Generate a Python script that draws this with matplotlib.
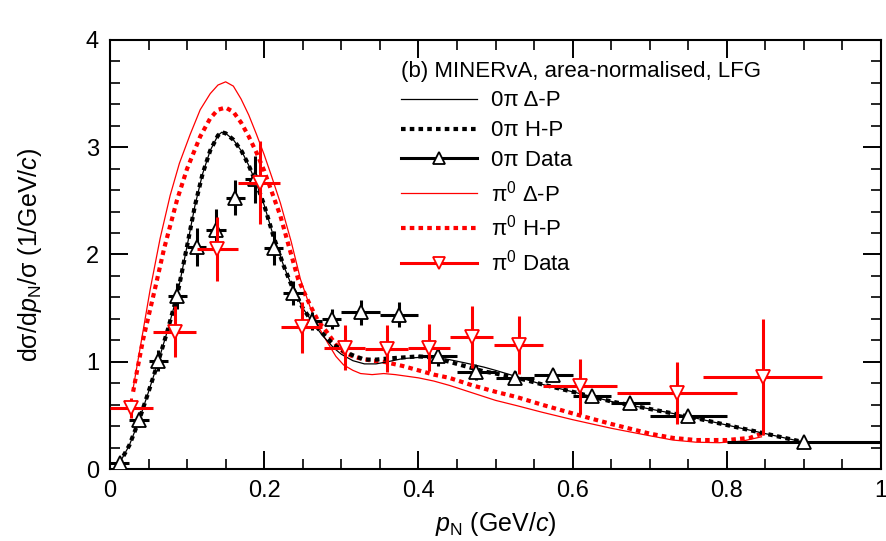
import matplotlib
matplotlib.use("Agg")
import matplotlib.pyplot as plt
from matplotlib.lines import Line2D
from matplotlib.ticker import MultipleLocator, FuncFormatter
import numpy as np

plt.rcParams['font.family'] = ['Liberation Sans', 'DejaVu Sans']
plt.rcParams['mathtext.fontset'] = 'custom'
plt.rcParams['mathtext.rm'] = 'Liberation Sans'
plt.rcParams['mathtext.it'] = 'Liberation Sans:italic'
plt.rcParams['mathtext.bf'] = 'Liberation Sans:bold'
plt.rcParams['mathtext.sf'] = 'Liberation Sans'

# ---------------- data ----------------
# 0pi Delta-P model (black thin solid)
zp_dp_x = [0.012, 0.025, 0.0375, 0.05, 0.0625, 0.075, 0.0875, 0.1, 0.11, 0.12, 0.13, 0.14, 0.145,
           0.15, 0.16, 0.171, 0.18, 0.19, 0.2, 0.212, 0.225, 0.235, 0.25, 0.2625, 0.275, 0.29,
           0.3, 0.315, 0.33, 0.345, 0.36, 0.38, 0.4, 0.42, 0.44, 0.46, 0.485, 0.5, 0.528, 0.56,
           0.6, 0.65, 0.7, 0.75, 0.8, 0.85, 0.9]
zp_dp_y = [0.05, 0.22, 0.45, 0.72, 1.0, 1.3, 1.63, 2.08, 2.45, 2.75, 2.97, 3.11, 3.14,
           3.13, 3.07, 2.96, 2.83, 2.66, 2.46, 2.17, 1.9, 1.72, 1.5, 1.37, 1.25, 1.13,
           1.07, 1.01, 0.98, 0.98, 1.0, 1.03, 1.04, 1.04, 1.02, 0.99, 0.95, 0.92, 0.86, 0.79,
           0.72, 0.63, 0.56, 0.49, 0.41, 0.33, 0.25]

# 0pi H-P model (black thick dotted)
zp_hp_x = [0.012, 0.025, 0.0375, 0.05, 0.0625, 0.075, 0.0875, 0.1, 0.11, 0.12, 0.13, 0.14, 0.145,
           0.15, 0.16, 0.171, 0.18, 0.19, 0.2, 0.212, 0.225, 0.235, 0.25, 0.2625, 0.275, 0.29,
           0.3, 0.315, 0.33, 0.345, 0.36, 0.38, 0.4, 0.42, 0.44, 0.46, 0.485, 0.5, 0.528, 0.56,
           0.6, 0.65, 0.7, 0.75, 0.8, 0.85, 0.9]
zp_hp_y = [0.05, 0.22, 0.45, 0.72, 1.0, 1.3, 1.63, 2.08, 2.45, 2.75, 2.97, 3.11, 3.14,
           3.13, 3.07, 2.96, 2.83, 2.66, 2.46, 2.17, 1.9, 1.72, 1.5, 1.37, 1.27, 1.16,
           1.11, 1.06, 1.02, 1.02, 1.03, 1.04, 1.05, 1.04, 1.0, 0.96, 0.91, 0.89, 0.85, 0.79,
           0.72, 0.63, 0.56, 0.49, 0.41, 0.33, 0.25]

# pi0 Delta-P model (red thin solid)
pz_dp_x = [0.03, 0.036, 0.042, 0.052, 0.065, 0.078, 0.09, 0.104, 0.117, 0.13, 0.14, 0.15, 0.16,
           0.17, 0.18, 0.19, 0.2, 0.21, 0.221, 0.235, 0.247, 0.26, 0.27, 0.282, 0.293, 0.303,
           0.315, 0.325, 0.34, 0.355, 0.37, 0.4, 0.42, 0.44, 0.47, 0.5, 0.528, 0.56, 0.6, 0.65,
           0.7, 0.73, 0.76, 0.79, 0.82, 0.845]
pz_dp_y = [0.75, 1.0, 1.25, 1.67, 2.15, 2.55, 2.85, 3.12, 3.35, 3.5, 3.58, 3.61, 3.57,
           3.45, 3.3, 3.12, 2.93, 2.72, 2.48, 2.12, 1.77, 1.5, 1.33, 1.18, 1.05, 0.97,
           0.92, 0.89, 0.88, 0.89, 0.88, 0.85, 0.82, 0.78, 0.71, 0.64, 0.59, 0.53, 0.46, 0.38,
           0.31, 0.27, 0.25, 0.245, 0.26, 0.3]

# pi0 H-P model (red thick dotted)
pz_hp_x = [0.03, 0.036, 0.043, 0.058, 0.07, 0.087, 0.1, 0.117, 0.13, 0.14, 0.15, 0.16, 0.17,
           0.18, 0.19, 0.2, 0.21, 0.221, 0.233, 0.244, 0.26, 0.27, 0.282, 0.293, 0.303, 0.315,
           0.325, 0.34, 0.355, 0.38, 0.42, 0.44, 0.47, 0.5, 0.528, 0.56, 0.614, 0.65, 0.7,
           0.73, 0.76, 0.8, 0.83, 0.845]
pz_hp_y = [0.72, 0.95, 1.21, 1.67, 2.05, 2.51, 2.8, 3.1, 3.27, 3.35, 3.37, 3.33, 3.23,
           3.1, 2.95, 2.78, 2.58, 2.36, 2.05, 1.77, 1.52, 1.38, 1.27, 1.16, 1.09, 1.05,
           1.03, 1.01, 1.0, 0.96, 0.88, 0.85, 0.78, 0.72, 0.67, 0.6, 0.49, 0.42, 0.33,
           0.29, 0.27, 0.27, 0.29, 0.33]

# 0pi data (black up-triangles)
zp_data_x = [0.0125, 0.0375, 0.0625, 0.0875, 0.1125, 0.1375, 0.1625, 0.1875, 0.2125, 0.2375,
             0.2625, 0.2875, 0.325, 0.375, 0.425, 0.475, 0.525, 0.575, 0.625, 0.675, 0.75, 0.9]
zp_data_xerr = [0.0125] * 12 + [0.025] * 8 + [0.05, 0.1]
zp_data_y = [0.06, 0.46, 1.01, 1.61, 2.07, 2.23, 2.53, 2.70, 2.06, 1.64, 1.38, 1.40,
             1.46, 1.44, 1.05, 0.90, 0.85, 0.88, 0.68, 0.62, 0.49, 0.25]
zp_data_yerr = [0.03, 0.07, 0.10, 0.12, 0.18, 0.19, 0.16, 0.22, 0.16, 0.11, 0.08, 0.09,
                0.12, 0.12, 0.09, 0.07, 0.06, 0.05, 0.05, 0.04, 0.03, 0.02]

# pi0 data (red down-triangles)
pz_data_x = [0.027, 0.084, 0.139, 0.194, 0.249, 0.305, 0.359, 0.414, 0.470, 0.530, 0.609, 0.735, 0.847]
pz_data_xlo = [0.0, 0.056, 0.113, 0.166, 0.222, 0.277, 0.331, 0.387, 0.441, 0.498, 0.562, 0.657, 0.769]
pz_data_xhi = [0.056, 0.112, 0.166, 0.221, 0.275, 0.331, 0.386, 0.441, 0.497, 0.562, 0.657, 0.813, 0.923]
pz_data_y = [0.57, 1.28, 2.05, 2.67, 1.32, 1.13, 1.12, 1.13, 1.23, 1.16, 0.77, 0.71, 0.855]
pz_data_yerr = [0.09, 0.24, 0.30, 0.39, 0.24, 0.21, 0.22, 0.22, 0.29, 0.27, 0.26, 0.29, 0.54]

legend_title = "(b) MINERvA, area-normalised, LFG"
legend_labels = ["0π Δ-P", "0π H-P", "0π Data",
                 "π$^{0}$ Δ-P", "π$^{0}$ H-P", "π$^{0}$ Data"]

# ---------------- figure ----------------
fig = plt.figure(figsize=(8.86, 5.41), dpi=100)
ax = fig.add_axes([110 / 886, (541 - 469) / 541, 771 / 886, 429 / 541])

BLACK = 'black'
RED = '#ff0000'
dot_ls = (0, (1.1, 1.0))

ax.plot(pz_dp_x, pz_dp_y, color=RED, lw=0.9, zorder=2)
ax.plot(pz_hp_x, pz_hp_y, color=RED, lw=3.0, ls=dot_ls, dash_capstyle='butt', zorder=2)
ax.plot(zp_dp_x, zp_dp_y, color=BLACK, lw=0.9, zorder=3)
ax.plot(zp_hp_x, zp_hp_y, color=BLACK, lw=3.0, ls=dot_ls, dash_capstyle='butt', zorder=3)

ax.errorbar(zp_data_x, zp_data_y, xerr=zp_data_xerr, yerr=zp_data_yerr, fmt='^',
            color=BLACK, mfc='white', mec=BLACK, ms=10, mew=1.3, elinewidth=2.2,
            capsize=0, zorder=4)
pz_xerr = [np.array(pz_data_x) - np.array(pz_data_xlo), np.array(pz_data_xhi) - np.array(pz_data_x)]
ax.errorbar(pz_data_x, pz_data_y, xerr=pz_xerr, yerr=pz_data_yerr, fmt='v',
            color=RED, mfc='white', mec=RED, ms=10, mew=1.3, elinewidth=2.2,
            capsize=0, zorder=5)

ax.set_xlim(0, 1)
ax.set_ylim(0, 4)
ax.xaxis.set_major_locator(MultipleLocator(0.2))
ax.xaxis.set_minor_locator(MultipleLocator(0.05))
ax.yaxis.set_major_locator(MultipleLocator(1))
ax.yaxis.set_minor_locator(MultipleLocator(0.2))
ax.xaxis.set_major_formatter(FuncFormatter(lambda v, p: '%g' % round(v, 3)))
ax.yaxis.set_major_formatter(FuncFormatter(lambda v, p: '%g' % round(v, 3)))
ax.tick_params(which='both', direction='in', top=True, right=True, labelsize=17)
ax.tick_params(which='major', length=13, width=1.4, pad=8)
ax.tick_params(which='minor', length=7, width=1.2)
for s in ax.spines.values():
    s.set_linewidth(1.5)

ax.set_xlabel(r'$p_{\rm N}$ (GeV/$c$)', fontsize=18)
ax.set_ylabel(r'dσ/d$p_{\rm N}$/σ (1/GeV/$c$)', fontsize=18)
ax.xaxis.set_label_coords(0.5, -0.095)
ax.yaxis.set_label_coords(-0.085, 0.5)

handles = [
    Line2D([], [], color=BLACK, lw=0.9),
    Line2D([], [], color=BLACK, lw=3.0, ls=dot_ls, dash_capstyle='butt'),
    Line2D([], [], color=BLACK, lw=2.2, marker='^', mfc='white', mec=BLACK, ms=9, mew=1.3),
    Line2D([], [], color=RED, lw=0.9),
    Line2D([], [], color=RED, lw=3.0, ls=dot_ls, dash_capstyle='butt'),
    Line2D([], [], color=RED, lw=2.2, marker='v', mfc='white', mec=RED, ms=9, mew=1.3),
]
leg = ax.legend(handles, legend_labels, title=legend_title, loc='upper left',
                bbox_to_anchor=(0.363, 0.978), frameon=False, fontsize=16,
                title_fontsize=16, alignment='left', handlelength=3.4,
                handletextpad=0.63, labelspacing=0.4, borderpad=0, numpoints=1)

fig.savefig('out.png', dpi=100)
